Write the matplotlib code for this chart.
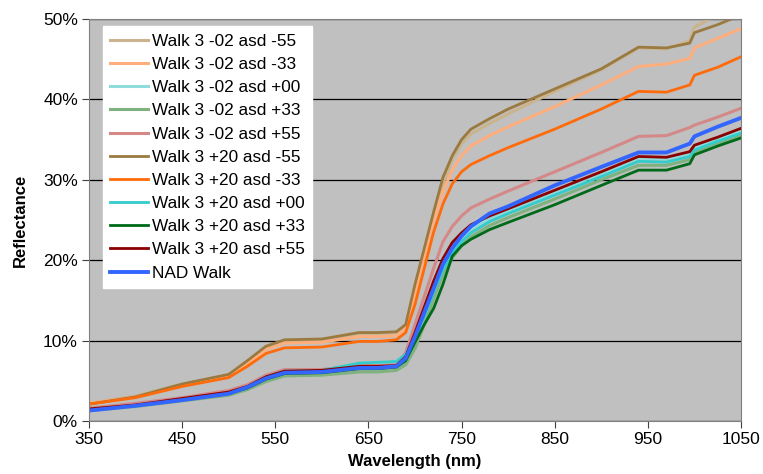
"""Reflectance spectra for the Walk 3 off-nadir views vs the NAD walk."""

import matplotlib
matplotlib.use("Agg")
import matplotlib.pyplot as plt
from matplotlib.ticker import FuncFormatter

plt.rcParams["font.family"] = ["Liberation Sans", "DejaVu Sans"]

# wavelength grid (nm) the values were read at
wavelength = [350, 400, 450, 500, 520, 540, 560, 600, 640, 660, 680, 690, 700, 710,
              720, 730, 740, 750, 760, 780, 800, 850, 900, 940, 970, 995, 1000, 1025, 1050]

# reflectance in percent, one list per series
w02_m55 = [2.2, 3.1, 4.6, 5.7, 7.3, 9.2, 10.0, 10.1, 10.9, 10.9, 11.0, 11.8, 16.5, 21.0,
           25.5, 29.5, 32.5, 34.5, 35.7, 37.0, 38.2, 41.0, 43.7, 46.4, 46.3, 47.3, 49.0, 50.5, 52.0]
w02_m33 = [2.2, 3.0, 4.5, 5.6, 7.1, 8.9, 9.7, 9.8, 10.5, 10.5, 10.6, 11.5, 15.8, 20.5,
           25.0, 28.5, 31.2, 33.0, 34.2, 35.5, 36.6, 39.1, 41.8, 44.1, 44.4, 45.1, 46.4, 47.6, 48.8]
w02_p00 = [1.5, 2.0, 2.8, 3.6, 4.3, 5.5, 6.2, 6.3, 7.1, 7.2, 7.3, 8.4, 11.0, 13.8,
           16.8, 19.4, 21.3, 22.8, 23.9, 25.2, 26.2, 28.5, 30.8, 32.7, 32.6, 33.3, 34.0, 35.1, 36.1]
w02_p33 = [1.3, 1.8, 2.5, 3.2, 3.9, 4.9, 5.6, 5.7, 6.1, 6.1, 6.3, 7.0, 9.0, 12.0,
           15.2, 18.2, 20.3, 21.8, 22.9, 24.3, 25.3, 27.6, 30.0, 31.8, 31.8, 32.5, 33.4, 34.5, 35.5]
w02_p55 = [1.6, 2.2, 2.9, 3.8, 4.5, 5.7, 6.4, 6.4, 6.9, 6.9, 7.0, 8.5, 12.0, 15.5,
           19.0, 22.3, 24.2, 25.5, 26.5, 27.6, 28.6, 31.0, 33.4, 35.4, 35.5, 36.5, 36.8, 37.8, 38.9]
w20_m55 = [2.1, 3.0, 4.6, 5.8, 7.5, 9.3, 10.1, 10.2, 11.0, 11.0, 11.1, 12.0, 17.0, 21.5,
           26.0, 30.3, 33.0, 35.0, 36.3, 37.6, 38.8, 41.3, 43.8, 46.5, 46.4, 47.0, 48.3, 49.3, 50.5]
w20_m33 = [2.1, 2.9, 4.3, 5.4, 6.8, 8.4, 9.1, 9.2, 9.9, 9.9, 10.1, 11.0, 14.5, 19.0,
           23.5, 27.0, 29.5, 31.0, 31.9, 33.0, 34.0, 36.3, 38.8, 41.0, 40.9, 41.8, 43.0, 44.0, 45.3]
w20_p00 = [1.4, 1.9, 2.7, 3.5, 4.3, 5.5, 6.2, 6.3, 7.2, 7.3, 7.4, 8.3, 10.5, 13.0,
           16.0, 18.8, 20.8, 22.3, 23.4, 24.8, 25.8, 28.1, 30.4, 32.3, 32.2, 32.9, 33.7, 34.8, 35.8]
w20_p33 = [1.4, 1.9, 2.6, 3.4, 4.1, 5.2, 5.9, 6.0, 6.5, 6.5, 6.7, 7.5, 9.8, 12.0,
           14.0, 17.0, 20.5, 21.8, 22.6, 23.8, 24.7, 26.9, 29.3, 31.2, 31.2, 32.0, 33.1, 34.2, 35.2]
w20_p55 = [1.5, 2.0, 2.8, 3.6, 4.3, 5.5, 6.2, 6.3, 6.8, 6.8, 6.9, 8.0, 11.0, 14.2,
           17.4, 20.2, 22.2, 23.4, 24.4, 25.5, 26.4, 28.7, 31.0, 32.9, 32.8, 33.5, 34.3, 35.3, 36.4]
nad_walk = [1.3, 1.9, 2.6, 3.4, 4.2, 5.3, 6.0, 6.1, 6.6, 6.6, 6.8, 7.8, 10.5, 13.5,
            16.5, 19.5, 21.5, 23.0, 24.2, 25.8, 26.7, 29.3, 31.6, 33.4, 33.4, 34.5, 35.4, 36.6, 37.7]

series = [
    ("Walk 3 -02 asd -55", w02_m55, "#c9b48e", 2.2),
    ("Walk 3 -02 asd -33", w02_m33, "#ffae7e", 2.2),
    ("Walk 3 -02 asd +00", w02_p00, "#8fdcdc", 2.2),
    ("Walk 3 -02 asd +33", w02_p33, "#7fb27f", 2.2),
    ("Walk 3 -02 asd +55", w02_p55, "#d48888", 2.2),
    ("Walk 3 +20 asd -55", w20_m55, "#9a7a40", 2.0),
    ("Walk 3 +20 asd -33", w20_m33, "#ff6a0a", 2.0),
    ("Walk 3 +20 asd +00", w20_p00, "#33cccc", 2.0),
    ("Walk 3 +20 asd +33", w20_p33, "#006a1a", 2.0),
    ("Walk 3 +20 asd +55", w20_p55, "#8b0000", 2.0),
    ("NAD Walk", nad_walk, "#3366ff", 2.8),
]

fig = plt.figure(figsize=(7.63, 4.74), dpi=100)
ax = fig.add_axes([89 / 763, 1 - 421 / 474, 652 / 763, 402 / 474])
ax.set_facecolor("#c0c0c0")

for label, vals, color, lw in series:
    ax.plot(wavelength, vals, color=color, lw=lw, label=label, solid_joinstyle="round")

ax.set_xlim(350, 1050)
ax.set_ylim(0, 50)
ax.set_xticks(range(350, 1051, 100))
ax.set_yticks(range(0, 51, 10))
ax.yaxis.set_major_formatter(FuncFormatter(lambda v, _: f"{v:.0f}%"))
ax.grid(True, axis="y", color="black", lw=0.9)
ax.set_axisbelow(True)

for side in ax.spines.values():
    side.set_color("#808080")
ax.tick_params(direction="out", length=5, color="#404040", labelsize=12.5, pad=3)

ax.set_xlabel("Wavelength (nm)", fontsize=12, fontweight="bold", labelpad=5)
ax.set_ylabel("Reflectance", fontsize=12, fontweight="bold", labelpad=11)

leg = ax.legend(loc="upper left", bbox_to_anchor=(0.021, 0.982), borderaxespad=0,
                fontsize=12.4, handlelength=2.2, handletextpad=0.2, labelspacing=0.47,
                frameon=True, fancybox=False, framealpha=1, borderpad=0.45)
leg.get_frame().set_edgecolor("white")
leg.get_frame().set_facecolor("white")

fig.savefig("out.png", dpi=100)
